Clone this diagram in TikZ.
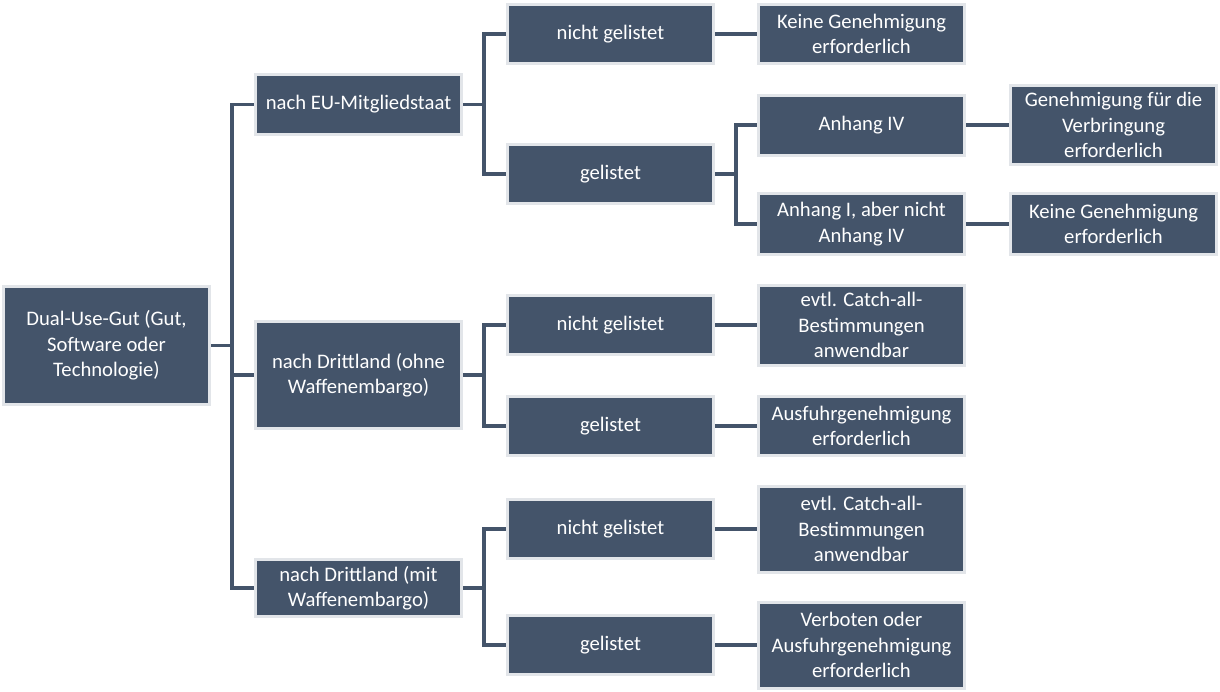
\documentclass[tikz,border=0pt]{standalone}
\usepackage{fontspec}
\setmainfont{Carlito}
\usetikzlibrary{backgrounds}
\definecolor{boxblue}{HTML}{44546A}
\definecolor{boxborder}{HTML}{E2E5E9}
\begin{document}
\begin{tikzpicture}[x=0.75pt,y=-0.75pt,
  box/.style={rectangle, fill=boxblue, draw=boxborder, line width=2.25pt, text=white, align=center,
    font=\fontsize{15.5}{19}\selectfont, minimum width=154.5pt, inner sep=1pt},
  conn/.style={draw=boxblue, line width=2.4pt, line join=miter}]
\useasboundingbox (0,0) rectangle (1220,692);
% level 0
\node[box, minimum height=88.5pt] (root) at (106.5,345.5) {Dual-Use-Gut (Gut,\\Software oder\\Technologie)};
% level 1
\node[box, minimum height=45pt] (eu) at (358.5,104.5) {nach EU-Mitgliedstaat};
\node[box, minimum height=80.25pt] (ohne) at (358.5,375) {nach Drittland (ohne\\Waffenembargo)};
\node[box, minimum height=42.75pt] (mit) at (358.5,588) {nach Drittland (mit\\Waffenembargo)};
% level 2
\node[box, minimum height=44.25pt] (euN) at (610.5,34) {nicht gelistet};
\node[box, minimum height=44.25pt] (euG) at (610.5,174) {gelistet};
\node[box, minimum height=44.25pt] (ohneN) at (610.5,325) {nicht gelistet};
\node[box, minimum height=44.25pt] (ohneG) at (610.5,426) {gelistet};
\node[box, minimum height=44.25pt] (mitN) at (610.5,529) {nicht gelistet};
\node[box, minimum height=44.25pt] (mitG) at (610.5,645) {gelistet};
% level 3
\node[box, minimum height=44.25pt] (euNk) at (861.5,34) {Keine Genehmigung\\erforderlich};
\node[box, minimum height=45pt] (a4) at (861.5,125) {Anhang IV};
\node[box, minimum height=45.75pt] (a1) at (861.5,224) {Anhang I, aber nicht\\Anhang IV};
\node[box, minimum height=60pt] (ohneNc) at (861.5,325) {evtl. Catch-all-\\Bestimmungen\\anwendbar};
\node[box, minimum height=44.25pt] (ohneGa) at (861.5,426) {Ausfuhrgenehmigung\\erforderlich};
\node[box, minimum height=64.5pt] (mitNc) at (861.5,529) {evtl. Catch-all-\\Bestimmungen\\anwendbar};
\node[box, minimum height=64.5pt] (mitGv) at (861.5,645) {Verboten oder\\Ausfuhrgenehmigung\\erforderlich};
% level 4
\node[box, minimum height=59.25pt] (a4g) at (1113.5,125) {Genehmigung für die\\Verbringung\\erforderlich};
\node[box, minimum height=45.75pt] (a1k) at (1113.5,224) {Keine Genehmigung\\erforderlich};
\begin{pgfonlayer}{background}
\draw[conn] (root.east) -- ++(21,0) |- (eu.west);
\draw[conn] (root.east) -- ++(21,0) |- (ohne.west);
\draw[conn] (root.east) -- ++(21,0) |- (mit.west);
\draw[conn] (eu.east) -- ++(21,0) |- (euN.west);
\draw[conn] (eu.east) -- ++(21,0) |- (euG.west);
\draw[conn] (ohne.east) -- ++(21,0) |- (ohneN.west);
\draw[conn] (ohne.east) -- ++(21,0) |- (ohneG.west);
\draw[conn] (mit.east) -- ++(21,0) |- (mitN.west);
\draw[conn] (mit.east) -- ++(21,0) |- (mitG.west);
\draw[conn] (euG.east) -- ++(21,0) |- (a4.west);
\draw[conn] (euG.east) -- ++(21,0) |- (a1.west);
\draw[conn] (euN.east) -- (euNk.west);
\draw[conn] (ohneN.east) -- (ohneNc.west);
\draw[conn] (ohneG.east) -- (ohneGa.west);
\draw[conn] (mitN.east) -- (mitNc.west);
\draw[conn] (mitG.east) -- (mitGv.west);
\draw[conn] (a4.east) -- (a4g.west);
\draw[conn] (a1.east) -- (a1k.west);
\end{pgfonlayer}
\end{tikzpicture}
\end{document}
